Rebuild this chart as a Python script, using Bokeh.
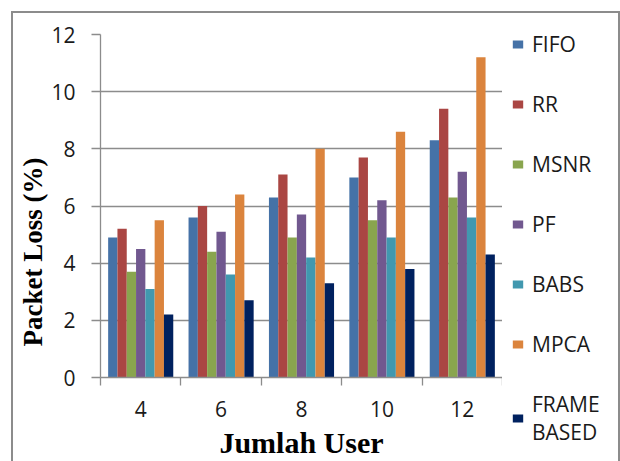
from bokeh.plotting import figure
from bokeh.layouts import row
from bokeh.models import (ColumnDataSource, FixedTicker, Legend, LegendItem,
                          Title, InlineStyleSheet)
from bokeh.transform import dodge
from bokeh.embed import file_html
from bokeh.resources import INLINE

# Packet loss (%) per scheduler for each number of users
users = ["4", "6", "8", "10", "12"]
fifo = [4.9, 5.6, 6.3, 7.0, 8.3]
rr = [5.2, 6.0, 7.1, 7.7, 9.4]
msnr = [3.7, 4.4, 4.9, 5.5, 6.3]
pf = [4.5, 5.1, 5.7, 6.2, 7.2]
babs = [3.1, 3.6, 4.2, 4.9, 5.6]
mpca = [5.5, 6.4, 8.0, 8.6, 11.2]
frame_based = [2.2, 2.7, 3.3, 3.8, 4.3]

series_names = ["FIFO", "RR", "MSNR", "PF", "BABS", "MPCA", "FRAME\nBASED"]
series_values = [fifo, rr, msnr, pf, babs, mpca, frame_based]
colors = ["#4572A7", "#AA4643", "#89A54E", "#71588F", "#4198AF", "#DB843D", "#00215F"]

y_ticks = [0, 2, 4, 6, 8, 10, 12]

centers = [i + 0.5 for i in range(len(users))]
bounds = [float(i) for i in range(len(users) + 1)]

data = {"x": centers}
for k, vals in enumerate(series_values):
    data[f"s{k}"] = vals
source = ColumnDataSource(data)

GRAY = "#8C8C8C"

# chart border drawn around the whole chart area
border_css = InlineStyleSheet(css="""
:host { position: relative; }
:host::after {
  content: "";
  position: absolute;
  left: 11px; top: 11px; right: 0px; bottom: -20px;
  border: 2px solid #8C8C8C;
  pointer-events: none;
  z-index: 10;
}
""")

p = figure(width=502, height=461, output_backend="svg", toolbar_location=None,
           x_range=(0, len(users)), y_range=(0, 12),
           min_border_left=100, min_border_right=0,
           min_border_top=34, min_border_bottom=83)
p.outline_line_color = None
p.background_fill_color = "white"
p.border_fill_color = "white"

bar_w = 0.1157
for k, name in enumerate(series_names):
    off = (k - 3) * bar_w
    p.vbar(x=dodge("x", off, range=p.x_range), top=f"s{k}", width=bar_w,
           bottom=0, source=source, fill_color=colors[k], line_color=None)

# x axis: labels at group centres, tick marks at group boundaries
xa = p.xaxis[0]
xa.ticker = FixedTicker(ticks=centers, minor_ticks=bounds)
xa.major_label_overrides = {c: u for c, u in zip(centers, users)}
xa.major_tick_line_color = None
xa.major_tick_out = 8
xa.minor_tick_in = 0
xa.minor_tick_out = 8
xa.minor_tick_line_color = GRAY
xa.minor_tick_line_width = 1.3
xa.axis_line_color = GRAY
xa.axis_line_width = 1.3
xa.major_label_text_font = "Open Sans"
xa.major_label_text_font_size = "21px"
xa.major_label_text_color = "#1a1a1a"
xa.major_label_standoff = 15
xa.axis_label = "Jumlah User"
xa.axis_label_text_font = "Liberation Serif"
xa.axis_label_text_font_style = "bold"
xa.axis_label_text_font_size = "30px"
xa.axis_label_text_color = "black"
xa.axis_label_standoff = 6

ya = p.yaxis[0]
ya.ticker = FixedTicker(ticks=y_ticks)
ya.major_tick_in = 0
ya.major_tick_out = 9
ya.major_tick_line_color = GRAY
ya.major_tick_line_width = 1.3
ya.minor_tick_line_color = None
ya.axis_line_color = GRAY
ya.axis_line_width = 1.3
ya.major_label_text_font = "Open Sans"
ya.major_label_text_font_size = "21px"
ya.major_label_text_color = "#1a1a1a"
ya.major_label_standoff = 16

# y axis title sits a little below the middle of the axis
p.add_layout(Title(text="Packet Loss (%)", align="left", offset=31, standoff=2,
                   text_font="Liberation Serif", text_font_style="bold",
                   text_font_size="27px", text_color="black"), "left")

p.xgrid.grid_line_color = None
p.ygrid.ticker = FixedTicker(ticks=y_ticks)
p.ygrid.grid_line_color = GRAY
p.ygrid.grid_line_width = 1.3

# legend panel: a bare figure whose own frame spans its full height;
# its swatch renderers share the series data but are not drawn themselves
lg = figure(width=118, height=461, output_backend="svg", toolbar_location=None,
            x_axis_type=None, y_axis_type=None, min_border=0,
            x_range=(0, len(users)), y_range=(0, 12))
lg.frame_align = False
lg.outline_line_color = None
lg.grid.visible = False
lg.background_fill_color = "white"
lg.border_fill_color = "white"
swatches = [lg.vbar(x="x", top=f"s{k}", bottom=0, width=bar_w, source=source,
                    fill_color=c, line_color=None, visible=False)
            for k, c in enumerate(colors)]

legend = Legend(items=[LegendItem(label=n, renderers=[r], index=0)
                       for n, r in zip(series_names, swatches)],
                location=(9, 15), orientation="vertical", click_policy="none",
                glyph_width=13, glyph_height=10, label_standoff=8,
                spacing=32, padding=0, margin=0,
                border_line_color=None, background_fill_alpha=0,
                inactive_fill_alpha=0,
                label_text_font="Open Sans", label_text_font_size="21px",
                label_text_color="#1a1a1a")
lg.add_layout(legend, "center")

chart = row(p, lg, spacing=0, stylesheets=[border_css])

open("out.html", "w").write(file_html(chart, INLINE))
